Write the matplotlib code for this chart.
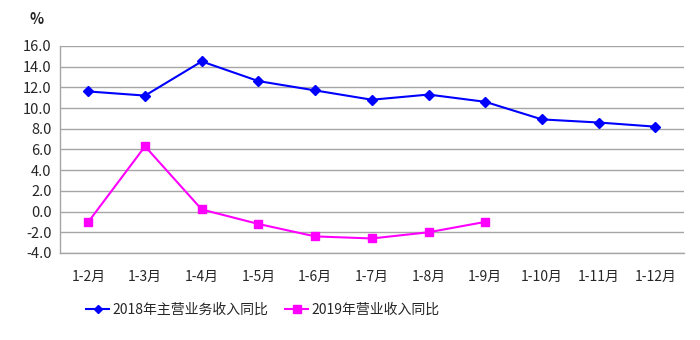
import matplotlib
matplotlib.use("Agg")
import matplotlib.pyplot as plt

plt.rcParams['font.family'] = ['Noto Sans CJK SC', 'DejaVu Sans']

categories = ["1-2月", "1-3月", "1-4月", "1-5月", "1-6月", "1-7月", "1-8月", "1-9月", "1-10月", "1-11月", "1-12月"]
rev_2018 = [11.6, 11.2, 14.5, 12.6, 11.7, 10.8, 11.3, 10.6, 8.9, 8.6, 8.2]
rev_2019 = [-1.0, 6.3, 0.2, -1.2, -2.4, -2.6, -2.0, -1.0]
label_2018 = "2018年主营业务收入同比"
label_2019 = "2019年营业收入同比"
yticks = [-4.0, -2.0, 0.0, 2.0, 4.0, 6.0, 8.0, 10.0, 12.0, 14.0, 16.0]

TXT = "#262626"

fig = plt.figure(figsize=(7, 3.4), dpi=100)
ax = fig.add_axes([0.0857, 0.256, 0.891, 0.609])

x = list(range(len(categories)))
ax.plot(x, rev_2018, color="#0000FF", marker="D", markersize=5, linewidth=1.5, label=label_2018)
ax.plot(x[:len(rev_2019)], rev_2019, color="#FF00FF", marker="s", markersize=6, linewidth=1.5, label=label_2019)

ax.set_xlim(-0.5, len(categories) - 0.5)
ax.set_ylim(-4, 16)
ax.set_yticks(yticks)
ax.set_yticklabels([f"{v:.1f}" for v in yticks], fontsize=10.5, color=TXT)
ax.set_xticks(x)
ax.set_xticklabels(categories, fontsize=10, color=TXT)
ax.tick_params(length=0, pad=6)
ax.tick_params(axis='x', pad=12)
ax.yaxis.grid(True, color="#A6A6A6", linewidth=1)
ax.set_axisbelow(True)
for s in ["top", "right"]:
    ax.spines[s].set_visible(False)
for s in ["left", "bottom"]:
    ax.spines[s].set_color("#A6A6A6")
    ax.spines[s].set_linewidth(1)

fig.text(37 / 700, 1 - 19 / 340, "%", fontsize=10.5, ha="center", va="center", color=TXT, fontweight="bold")

leg = fig.legend(loc="center", bbox_to_anchor=(0.375, 1 - 310 / 340), ncol=2, frameon=False,
                 fontsize=10, handlelength=1.7, columnspacing=1.2, handletextpad=0.2,
                 markerscale=0.85)
for t in leg.get_texts():
    t.set_color(TXT)

fig.savefig("out.png", dpi=100)
